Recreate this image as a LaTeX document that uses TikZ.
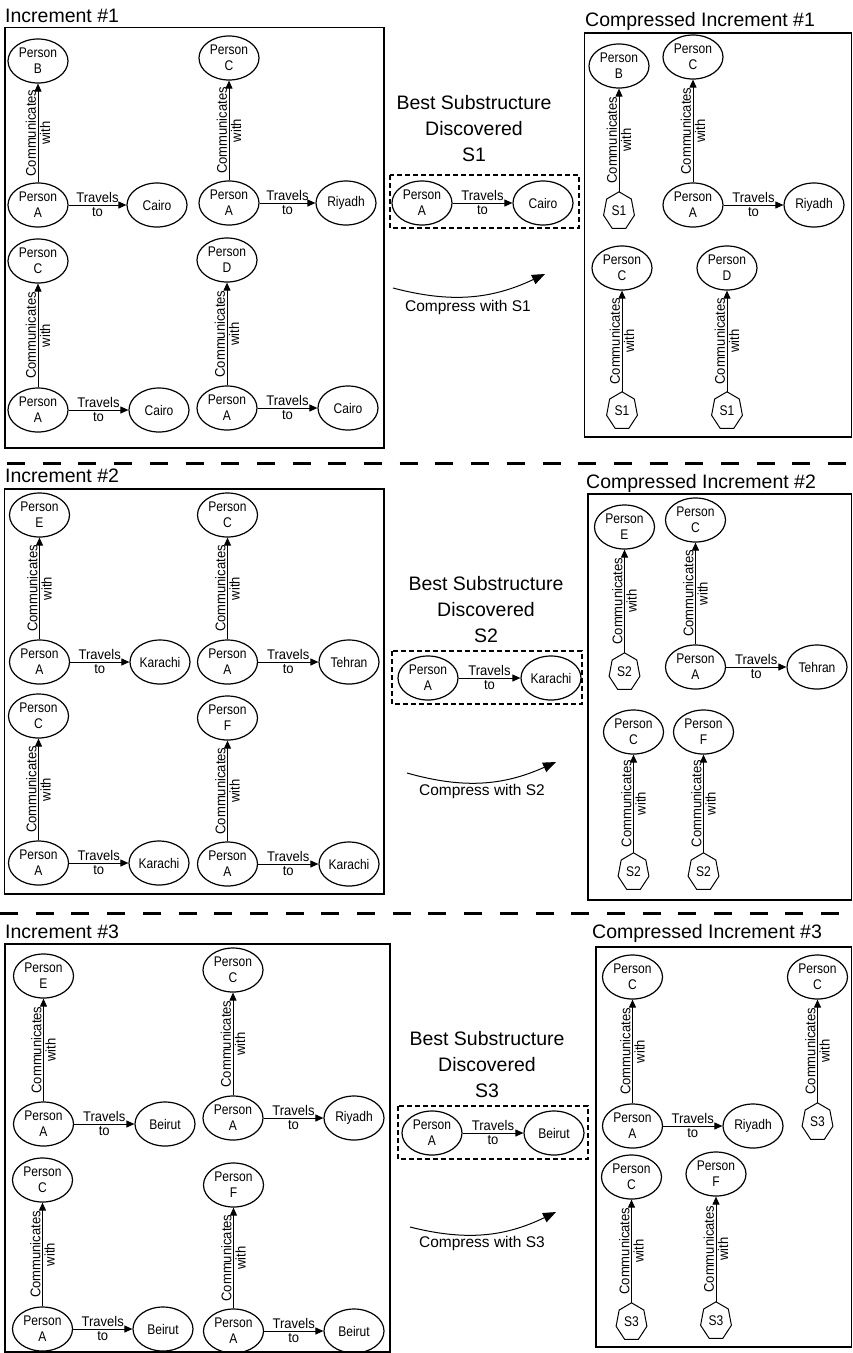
\documentclass[tikz,border=0pt]{standalone}
\usepackage{fontspec}
\setmainfont{Liberation Sans}
\newfontfamily\tallfont[FakeStretch=0.86]{Liberation Sans}
\newfontfamily\labfont[FakeStretch=0.93]{Liberation Sans}
\usetikzlibrary{shapes.geometric,arrows.meta}

\tikzset{
  ent/.style={ellipse, draw, line width=1.2pt, minimum width=60pt, minimum height=44pt,
    inner sep=0pt, align=center, font=\tallfont\fontsize{14}{16}\selectfont},
  hept/.style={rectangle, inner sep=0pt, minimum width=30.8pt, minimum height=38.4pt,
    font=\tallfont\fontsize{14}{16}\selectfont},
  heptline/.style={line width=1pt, line join=miter},
  rel/.style={line width=1pt, -{Triangle[length=8pt,width=7pt]}},
  lab/.style={font=\labfont\fontsize{14}{15}\selectfont, inner sep=1.5pt},
  frame/.style={line width=1.3pt},
  subbox/.style={line width=1.1pt, dash pattern=on 5pt off 3pt},
  sep/.style={line width=3pt, dash pattern=on 18pt off 17.7pt},
  heading/.style={font=\fontsize{19.5}{24}\selectfont, inner sep=0pt, anchor=base west},
  found/.style={font=\fontsize{19.5}{26}\selectfont, align=center, inner sep=0pt},
  compress/.style={line width=1pt, -{Triangle[length=13pt,width=10pt]}},
  cmplabel/.style={font=\fontsize{15.5}{18}\selectfont, inner sep=0pt},
}

% edge helpers
\newcommand\travels[2]{\draw[rel] (#1) -- node[lab,above]{Travels} node[lab,below]{to} (#2);}
\newcommand\talks[2]{\draw[rel] (#1) -- node[lab,sloped,above]{Communicates} node[lab,sloped,below]{with} (#2);}
% outline of a substructure vertex (seven sides, point up)
\newcommand\heptagon[1]{\draw[heptline, shift={(#1.center)}] (0,-19.2) -- (12.35,-11.97) -- (15.40,4.27)
  -- (6.86,17.30) -- (-6.86,17.30) -- (-15.40,4.27) -- (-12.35,-11.97) -- cycle;}

\begin{document}
\begin{tikzpicture}[x=1pt,y=-1pt]
\useasboundingbox[fill=white] (0,0) rectangle (852,1353);

% ================= Increment 1 =================
\node[heading] (h1) at (5,22.7) {Increment \#1};
\draw[frame] (5,27.5) rectangle (384,448);

\node[ent] (i1b)  at (38,61)   {Person\\B};
\node[ent] (i1a1) at (38,205)  {Person\\A};
\node[ent] (i1k1) at (157,205) {Cairo};
\node[ent] (i1c)  at (229,58)  {Person\\C};
\node[ent] (i1a2) at (229,203) {Person\\A};
\node[ent] (i1r)  at (346,203) {Riyadh};
\node[ent] (i1c2) at (38,261)  {Person\\C};
\node[ent] (i1a3) at (38,410)  {Person\\A};
\node[ent] (i1k3) at (159,410) {Cairo};
\node[ent] (i1d)  at (227,260) {Person\\D};
\node[ent] (i1a4) at (227,408) {Person\\A};
\node[ent] (i1k4) at (348,408) {Cairo};
\talks{i1a1}{i1b}   \travels{i1a1}{i1k1}
\talks{i1a2}{i1c}   \travels{i1a2}{i1r}
\talks{i1a3}{i1c2}  \travels{i1a3}{i1k3}
\talks{i1a4}{i1d}   \travels{i1a4}{i1k4}

\node[found] (f1) at (474,128.5) {Best Substructure\\Discovered\\S1};
\draw[subbox] (390,175) rectangle (579,228);
\node[ent] (f1a) at (422,203) {Person\\A};
\node[ent] (f1k) at (543,203) {Cairo};
\travels{f1a}{f1k}
\coordinate (cs1) at (393,288);
\coordinate (ce1) at (545,274);
\draw[compress] (cs1) to[bend right=20] (ce1);
\node[cmplabel] (cl1) at (468,307) {Compress with S1};

\node[heading] (ch1) at (585,26) {Compressed Increment \#1};
\draw[frame] (584.5,33) rectangle (851.5,437);
\node[ent]  (c1b)  at (619,66)  {Person\\B};
\node[hept] (c1s1) at (619,211) {S1};
\node[ent]  (c1c)  at (693,57)  {Person\\C};
\node[ent]  (c1a)  at (693,205) {Person\\A};
\node[ent]  (c1r)  at (814,205) {Riyadh};
\node[ent]  (c1c2) at (622,268) {Person\\C};
\node[hept] (c1s2) at (622,411) {S1};
\node[ent]  (c1d)  at (727,268) {Person\\D};
\node[hept] (c1s3) at (727,411) {S1};
\heptagon{c1s1} \heptagon{c1s2} \heptagon{c1s3}
\talks{c1s1}{c1b}
\talks{c1a}{c1c}  \travels{c1a}{c1r}
\talks{c1s2}{c1c2}
\talks{c1s3}{c1d}

\draw[sep] (7,463) -- (852,463);

% ================= Increment 2 =================
\node[heading] (h2) at (5,482) {Increment \#2};
\draw[frame] (4.5,489) rectangle (384,894);

\node[ent] (i2e)  at (39.5,515)  {Person\\E};
\node[ent] (i2a1) at (39.5,662)  {Person\\A};
\node[ent] (i2k1) at (160,662)   {Karachi};
\node[ent] (i2c)  at (227.5,515) {Person\\C};
\node[ent] (i2a2) at (227.5,662) {Person\\A};
\node[ent] (i2t)  at (349,662)   {Tehran};
\node[ent] (i2c2) at (38.5,716)  {Person\\C};
\node[ent] (i2a3) at (38.5,863)  {Person\\A};
\node[ent] (i2k3) at (159,863)   {Karachi};
\node[ent] (i2f)  at (227.5,718) {Person\\F};
\node[ent] (i2a4) at (227.5,864) {Person\\A};
\node[ent] (i2k4) at (349,864)   {Karachi};
\talks{i2a1}{i2e}   \travels{i2a1}{i2k1}
\talks{i2a2}{i2c}   \travels{i2a2}{i2t}
\talks{i2a3}{i2c2}  \travels{i2a3}{i2k3}
\talks{i2a4}{i2f}   \travels{i2a4}{i2k4}

\node[found] (f2) at (486,610) {Best Substructure\\Discovered\\S2};
\draw[subbox] (392,651) rectangle (582,704);
\node[ent] (f2a) at (428,678) {Person\\A};
\node[ent] (f2k) at (551,678) {Karachi};
\travels{f2a}{f2k}
\coordinate (cs2) at (407,773);
\coordinate (ce2) at (556,762);
\draw[compress] (cs2) to[bend right=20] (ce2);
\node[cmplabel] (cl2) at (482,791) {Compress with S2};

\node[heading] (ch2) at (586,488) {Compressed Increment \#2};
\draw[frame] (588,494) rectangle (851.5,900);
\node[ent]  (c2e)  at (624.5,527) {Person\\E};
\node[hept] (c2s1) at (624.5,672) {S2};
\node[ent]  (c2c)  at (695.5,520) {Person\\C};
\node[ent]  (c2a)  at (695.5,667) {Person\\A};
\node[ent]  (c2t)  at (817,667)   {Tehran};
\node[ent]  (c2c2) at (633.5,732) {Person\\C};
\node[hept] (c2s2) at (633.5,872) {S2};
\node[ent]  (c2f)  at (703.5,732) {Person\\F};
\node[hept] (c2s3) at (703.5,872) {S2};
\heptagon{c2s1} \heptagon{c2s2} \heptagon{c2s3}
\talks{c2s1}{c2e}
\talks{c2a}{c2c}  \travels{c2a}{c2t}
\talks{c2s2}{c2c2}
\talks{c2s3}{c2f}

\draw[sep] (0,913) -- (852,913);

% ================= Increment 3 =================
\node[heading] (h3) at (5,938) {Increment \#3};
\draw[frame] (5,944) rectangle (390,1352);

\node[ent] (i3e)  at (43.5,976)   {Person\\E};
\node[ent] (i3a1) at (43.5,1124)  {Person\\A};
\node[ent] (i3b1) at (165,1124)   {Beirut};
\node[ent] (i3c)  at (233,970)    {Person\\C};
\node[ent] (i3a2) at (233,1118)   {Person\\A};
\node[ent] (i3r)  at (354,1118)   {Riyadh};
\node[ent] (i3c2) at (42.5,1180)  {Person\\C};
\node[ent] (i3a3) at (42.5,1329)  {Person\\A};
\node[ent] (i3b3) at (163,1329)   {Beirut};
\node[ent] (i3f)  at (233.5,1185) {Person\\F};
\node[ent] (i3a4) at (233.5,1331) {Person\\A};
\node[ent] (i3b4) at (354,1331)   {Beirut};
\talks{i3a1}{i3e}   \travels{i3a1}{i3b1}
\talks{i3a2}{i3c}   \travels{i3a2}{i3r}
\talks{i3a3}{i3c2}  \travels{i3a3}{i3b3}
\talks{i3a4}{i3f}   \travels{i3a4}{i3b4}

\node[found] (f3) at (487,1065) {Best Substructure\\Discovered\\S3};
\draw[subbox] (398,1106) rectangle (588,1159);
\node[ent] (f3a) at (432,1133) {Person\\A};
\node[ent] (f3b) at (554,1133) {Beirut};
\travels{f3a}{f3b}
\coordinate (cs3) at (410,1227);
\coordinate (ce3) at (556,1212);
\draw[compress] (cs3) to[bend right=20] (ce3);
\node[cmplabel] (cl3) at (482,1243) {Compress with S3};

\node[heading] (ch3) at (592,938) {Compressed Increment \#3};
\draw[frame] (596,947) rectangle (851.5,1347);
\node[ent]  (c3c)  at (632.5,977)  {Person\\C};
\node[ent]  (c3a)  at (632.5,1126) {Person\\A};
\node[ent]  (c3r)  at (753,1126)   {Riyadh};
\node[ent]  (c3c2) at (817.5,977)  {Person\\C};
\node[hept] (c3s1) at (817.5,1122) {S3};
\node[ent]  (c3c3) at (631.5,1177) {Person\\C};
\node[hept] (c3s2) at (631.5,1322) {S3};
\node[ent]  (c3f)  at (716,1174)   {Person\\F};
\node[hept] (c3s3) at (716,1321)   {S3};
\heptagon{c3s1} \heptagon{c3s2} \heptagon{c3s3}
\talks{c3a}{c3c}  \travels{c3a}{c3r}
\talks{c3s1}{c3c2}
\talks{c3s2}{c3c3}
\talks{c3s3}{c3f}
\end{tikzpicture}
\end{document}
